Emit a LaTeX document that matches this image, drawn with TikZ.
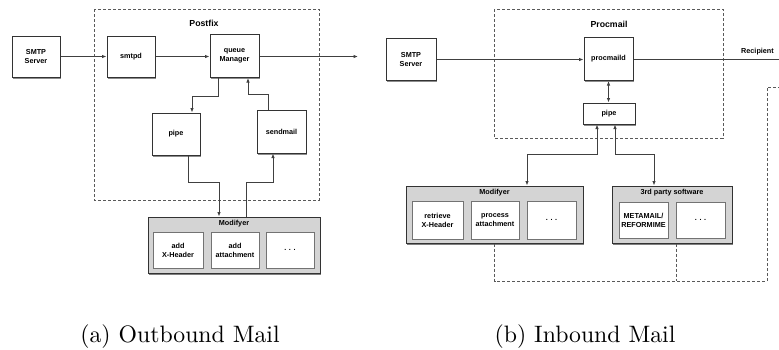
\documentclass[tikz,border=0pt]{standalone}
\usepackage{fontspec}
\setsansfont{Liberation Sans}
\usetikzlibrary{arrows.meta,calc,shadows}
\begin{document}
\begin{tikzpicture}[x=0.4pt,y=-0.4pt,
  lbl/.style={font=\sffamily\bfseries\fontsize{2.9}{3.6}\selectfont, align=center, inner sep=0pt},
  ttl/.style={font=\sffamily\bfseries\fontsize{3.5}{4.2}\selectfont, inner sep=0pt},
  wh/.style 2 args={minimum width=#1*0.4pt, minimum height=#2*0.4pt},
  box/.style={lbl, draw=black!80, fill=white, line width=0.4pt,
    drop shadow={shadow xshift=0.45pt, shadow yshift=-0.6pt, fill=black, opacity=0.45}},
  inbox/.style={lbl, draw=black!55, fill=white, line width=0.35pt,
    drop shadow={shadow xshift=0.3pt, shadow yshift=-0.4pt, fill=black, opacity=0.25}},
  grp/.style={draw=black!80, fill=black!17, line width=0.4pt, inner sep=0pt,
    drop shadow={shadow xshift=0.5pt, shadow yshift=-0.7pt, fill=black, opacity=0.5}},
  frame/.style={draw=black!65, line width=0.35pt, dash pattern=on 1.2pt off 0.8pt},
  conn/.style={draw=black!75, line width=0.35pt},
  arr/.style={conn, -{Latex[length=1.8pt,width=1.4pt]}},
  darr/.style={conn, {Latex[length=1.8pt,width=1.4pt]}-{Latex[length=1.8pt,width=1.4pt]}},
  captxt/.style={font=\fontsize{9.5}{11}\selectfont, inner sep=0pt, anchor=base}
]
\useasboundingbox (0,0) rectangle (779,349);

% ---------------- (a) Outbound ----------------
\draw[frame] (94,9) rectangle (319,200);
\node[ttl] (postfix) at (204,23) {Postfix};

\node[box, wh={48}{41}] (smtpA) at (36,56.5) {SMTP\\Server};
\node[box, wh={48}{41}] (smtpd) at (131,56.5) {smtpd};
\node[box, wh={49}{43}] (queue) at (234.5,56) {queue\\Manager};
\node[box, wh={48}{42}] (pipeA) at (176,134) {pipe};
\node[box, wh={49}{43}] (sendmail) at (281.5,131.5) {sendmail};
\coordinate (outA) at (358,56.5);

\node[grp, wh={172}{56}] (modA) at (234,245) {};
\node[lbl, anchor=center] (modAt) at (234,223.5) {Modifyer};
\node[inbox, wh={50}{36}] (addX) at (178,250) {add\\X-Header};
\node[inbox, wh={48}{36}] (addAtt) at (235,250) {add\\attachment};
\node[inbox, wh={48}{36}] (dotsA) at (290,250) {. . .};

\draw[arr] (smtpA.east) -- (smtpd.west);
\draw[arr] (smtpd.east) -- (smtpd.east -| queue.west);
\draw[arr] (queue.east |- smtpd.east) -- (outA);
\draw[arr] ($(queue.south)+(-16.5,0)$) |- ($(pipeA.north)+(16,-16)$) -- ($(pipeA.north)+(16,0)$);
\draw[arr] ($(sendmail.north)+(-13.5,0)$) |- ($(queue.south)+(13.5,16)$) -- ($(queue.south)+(13.5,0)$);
\draw[arr] ($(pipeA.south)+(12,0)$) |- ($(modA.north)+(-15,-34)$) -- ($(modA.north)+(-15,0)$);
\draw[arr] ($(modA.north)+(12,0)$) |- ($(sendmail.south)+(-8.5,29)$) -- ($(sendmail.south)+(-8.5,0)$);

\node[captxt] (capA) at (180,342) {(a) Outbound Mail};

% ---------------- (b) Inbound ----------------
\draw[frame] (494,9) rectangle (723,138);
\node[ttl] (procmail) at (609,24) {Procmail};

\node[box, wh={50}{42}] (smtpB) at (411,59.5) {SMTP\\Server};
\node[box, wh={49}{43}] (procmaild) at (608.5,59) {procmaild};
\node[box, wh={52}{21}] (pipeB) at (609,113.5) {pipe};
\coordinate (outB) at (779,59.5);
\node[lbl] (recip) at (757.5,52) {Recipient};

\node[grp, wh={177}{57}] (modB) at (494.5,214.5) {};
\node[lbl] (modBt) at (494.5,193) {Modifyer};
\node[inbox, wh={51}{38}] (retr) at (437.5,220) {retrieve\\X-Header};
\node[inbox, wh={48}{38}] (proc) at (495,220) {process\\attachment};
\node[inbox, wh={49}{38}] (dotsB) at (551.5,220) {. . .};

\node[grp, wh={120}{57}] (third) at (672,214.5) {};
\node[lbl] (thirdt) at (672,193) {3rd party software};
\node[inbox, wh={49}{36}] (meta) at (643.5,220) {METAMAIL/\\REFORMIME};
\node[inbox, wh={49}{36}] (dotsC) at (700.5,220) {. . .};

\draw[arr] (smtpB.east) -- (smtpB.east -| procmaild.west);
\draw[conn] (procmaild.east |- smtpB.east) -- (outB);
\draw[darr] (procmaild.south) -- (procmaild.south |- pipeB.north);
\draw[darr] ($(pipeB.south)+(-12,0)$) |- ($(modB.north)+(32.5,-31)$) -- ($(modB.north)+(32.5,0)$);
\draw[darr] ($(pipeB.south)+(6,0)$) |- ($(third.north)+(-18,-31)$) -- ($(third.north)+(-18,0)$);

\coordinate (dj) at (767,281);
\coordinate (dr) at (779,87);
\draw[frame] (modB.south) |- (dj) |- (dr);
\draw[frame] ($(third.south)+(4,0)$) -- ($(third.south |- dj)+(4,0)$);

\node[captxt] (capB) at (585,342) {(b) Inbound Mail};
\end{tikzpicture}
\end{document}
